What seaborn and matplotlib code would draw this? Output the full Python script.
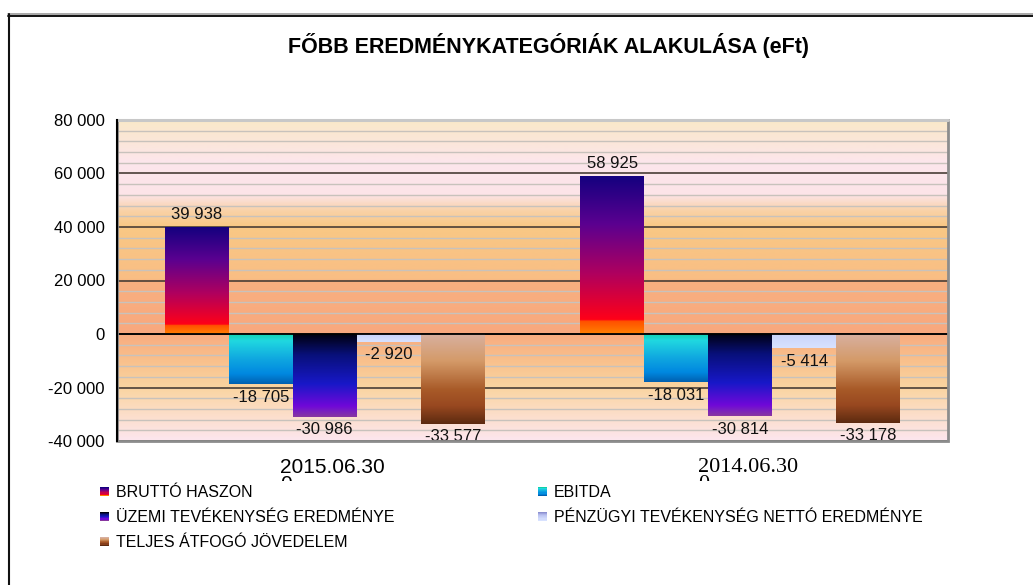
import numpy as np
import pandas as pd
import matplotlib
matplotlib.use("Agg")
import matplotlib.pyplot as plt
import seaborn as sns
from matplotlib.colors import LinearSegmentedColormap
from matplotlib.patches import Rectangle
from matplotlib.lines import Line2D
from matplotlib.legend_handler import HandlerBase
from matplotlib.transforms import Bbox, TransformedBbox

dates = ["2015.06.30", "2014.06.30"]
categories = [
    "BRUTTÓ HASZON",
    "EBITDA",
    "ÜZEMI TEVÉKENYSÉG EREDMÉNYE",
    "PÉNZÜGYI TEVÉKENYSÉG NETTÓ EREDMÉNYE",
    "TELJES ÁTFOGÓ JÖVEDELEM",
]
values_2015 = [39938, -18705, -30986, -2920, -33577]
values_2014 = [58925, -18031, -30814, -5414, -33178]
yticks = [-40000, -20000, 0, 20000, 40000, 60000, 80000]

# gradient stops, top of bar -> bottom of bar
bar_stops = {
    "BRUTTÓ HASZON": [(0, "#14007F"), (0.3, "#5A0090"), (0.62, "#B0005E"),
                      (0.91, "#FF0018"), (0.92, "#FF5000"), (1, "#FF8000")],
    "EBITDA": [(0, "#10D0A8"), (0.15, "#20D8E0"), (0.5, "#10A8E0"),
               (0.8, "#0088E0"), (1, "#0060B0")],
    "ÜZEMI TEVÉKENYSÉG EREDMÉNYE": [(0, "#000010"), (0.25, "#08107A"), (0.6, "#1818C8"),
                                    (0.87, "#7008D8"), (0.93, "#7A20C0"), (1, "#8838A0")],
    "PÉNZÜGYI TEVÉKENYSÉG NETTÓ EREDMÉNYE": [(0, "#C8D2FA"), (1, "#D8E2FF")],
    "TELJES ÁTFOGÓ JÖVEDELEM": [(0, "#D8B0A0"), (0.3, "#D49A68"), (0.62, "#A85A28"),
                                (0.8, "#984820"), (1, "#5C2A10")],
}
legend_stops = dict(bar_stops)
legend_stops["PÉNZÜGYI TEVÉKENYSÉG NETTÓ EREDMÉNYE"] = [(0, "#8C90D0"), (0.35, "#B8C0F0"), (1, "#D8E2FF")]

bg_stops = [
    (-40000, "#FDE6EE"), (-30000, "#FCDEC8"), (-20000, "#FAD4A0"), (-10000, "#F9C08C"),
    (-500, "#F8AC80"), (0, "#F8A87E"), (19500, "#F8B080"), (20500, "#F9BE84"),
    (40000, "#F9C884"), (46000, "#F9D2A8"), (52000, "#FCE4E8"), (64000, "#FDE6EC"),
    (72000, "#FBE6D8"), (80000, "#FAE9C9"),
]

sns.set_style("white")
plt.rcParams["font.family"] = ["Liberation Sans", "DejaVu Sans"]
plt.rcParams["text.color"] = "black"
plt.rcParams["xtick.color"] = "black"
plt.rcParams["ytick.color"] = "black"

df = pd.DataFrame({
    "date": np.repeat(dates, len(categories)),
    "category": categories * 2,
    "value": values_2015 + values_2014,
})

fig = plt.figure(figsize=(10.33, 5.85), dpi=100)
ax = fig.add_axes([117 / 1033, 1 - 441 / 585, 831 / 1033, 321 / 585])

sns.barplot(data=df, x="date", y="value", hue="category", order=dates,
            hue_order=categories, width=0.77, errorbar=None, legend=False, ax=ax)

ymin, ymax = -40000, 80000

# background gradient
cm_bg = LinearSegmentedColormap.from_list(
    "bg", [((v - ymin) / (ymax - ymin), c) for v, c in bg_stops])
ax.imshow(np.linspace(0, 1, 512).reshape(-1, 1), cmap=cm_bg, origin="lower",
          extent=[-0.5, 1.5, ymin, ymax], aspect="auto", zorder=0.1)

# gradient bars
cmaps = {k: LinearSegmentedColormap.from_list(k, s) for k, s in bar_stops.items()}
for cat, cont in zip(categories, ax.containers):
    for patch in cont:
        x, w = patch.get_x(), patch.get_width()
        y0 = patch.get_y()
        y1 = y0 + patch.get_height()
        top, bottom = max(y0, y1), min(y0, y1)
        im = ax.imshow(np.linspace(0, 1, 256).reshape(-1, 1), cmap=cmaps[cat],
                       origin="upper", extent=[x, x + w, bottom, top],
                       aspect="auto", zorder=2)
        im.set_clip_path(patch)
        patch.set_facecolor("none")
        patch.set_edgecolor("none")
    labels = [f"{int(round(b.get_height())):,}".replace(",", " ") for b in cont]
    ax.bar_label(cont, labels=labels, padding=4, fontsize=12, color="#111111")

ax.set_xlim(-0.5, 1.5)
ax.set_ylim(ymin, ymax)

# grid
ax.set_yticks(yticks)
ax.set_yticklabels([f"{v:,}".replace(",", " ") for v in yticks], fontsize=12)
ax.set_yticks(np.arange(ymin, ymax + 1, 4000), minor=True)
ax.set_axisbelow(True)
ax.grid(axis="y", which="minor", color="#C8C2BC", lw=1.0, zorder=0.5)
ax.grid(axis="y", which="major", color="#4A3E36", lw=1.2, zorder=0.6)
ax.grid(axis="x", visible=False)
ax.tick_params(axis="y", which="major", direction="out", length=6, width=1,
               color="black", pad=3)
ax.tick_params(axis="y", which="minor", length=0)

# category axis at zero
ax.spines["bottom"].set_position(("data", 0))
ax.spines["bottom"].set_color("black")
ax.spines["bottom"].set_linewidth(1.3)
ax.spines["bottom"].set_zorder(3)
ax.set_xticks([0.5, 1.5])
ax.set_xticklabels(["", ""])
ax.tick_params(axis="x", direction="out", length=5, width=1.3, color="#222222")
ax.set_xlabel("")
ax.set_ylabel("")
for s in ["top", "right"]:
    ax.spines[s].set_visible(False)
ax.spines["left"].set_color("black")
ax.spines["left"].set_linewidth(1.5)
ax.spines["left"].set_zorder(4)
ax.add_patch(Rectangle((0, 0), 1, 1, transform=ax.transAxes, fill=False,
                       edgecolor="#8C8C8C", lw=2, zorder=3.5, clip_on=False))
ax.plot([0, 1], [1, 1], transform=ax.transAxes, color="#C8C8C8", lw=2.2,
        zorder=3.6, clip_on=False)

# category labels (second line clipped like the original)
clip = TransformedBbox(Bbox([[0, 104 / 585], [1, 1]]), fig.transFigure)
for i, (d, fam, fs) in enumerate(zip(dates, ["Liberation Sans", "Liberation Serif"], [15, 16])):
    xf = fig.transFigure.inverted().transform(ax.transData.transform((i, 0)))[0] + 8 / 1033
    t = fig.text(xf, 1 - 458 / 585, d + "\n0", ha="center", va="top",
                 multialignment="left", linespacing=0.85, fontsize=fs,
                 family=fam, clip_on=True)
    t.set_clip_box(clip)

fig.text(548 / 1033, 1 - 46 / 585, "FŐBB EREDMÉNYKATEGÓRIÁK ALAKULÁSA (eFt)",
         ha="center", va="center", fontsize=15.5, fontweight="bold")


class GradientHandler(HandlerBase):
    def __init__(self, stops):
        super().__init__()
        self.cmap = LinearSegmentedColormap.from_list("h", stops)

    def create_artists(self, legend, orig_handle, xdescent, ydescent, width,
                       height, fontsize, trans):
        n = 8
        side = min(width, height) * 0.85
        x0 = -xdescent + (width - side) / 2
        y0 = -ydescent + (height - side) / 2
        arts = []
        for k in range(n):
            r = Rectangle((x0, y0 + side * (n - 1 - k) / n), side, side / n,
                          facecolor=self.cmap(k / (n - 1)), edgecolor="none",
                          transform=trans)
            arts.append(r)
        return arts


order = [0, 2, 4, 1, 3]
handles = [Rectangle((0, 0), 1, 1) for _ in categories]
hmap = {h: GradientHandler(legend_stops[c]) for h, c in zip(handles, categories)}
fig.legend([handles[i] for i in order], [categories[i] for i in order],
           handler_map=hmap, ncol=2, loc="upper left",
           bbox_to_anchor=(99 / 1033, 1 - 485 / 585), frameon=False,
           fontsize=11.5, handlelength=0.65, handleheight=0.65, handletextpad=0.4,
           labelspacing=0.62, columnspacing=8.95, borderaxespad=0, borderpad=0)

# outer frame
fig.add_artist(Line2D([8 / 1033, 1], [1 - 13.6 / 585] * 2, transform=fig.transFigure,
                      color="#9A9A9A", lw=1.2))
fig.add_artist(Line2D([8 / 1033, 1], [1 - 15.6 / 585] * 2, transform=fig.transFigure,
                      color="#111111", lw=1.4))
fig.add_artist(Line2D([8.5 / 1033] * 2, [0, 1 - 14 / 585], transform=fig.transFigure,
                      color="#111111", lw=1.5))

fig.savefig("out.png", dpi=100)
